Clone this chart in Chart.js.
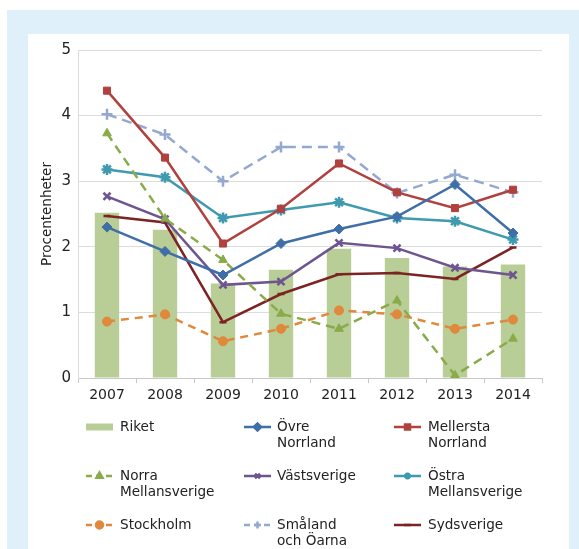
<!DOCTYPE html>
<html>
<head>
    <title>Procentenheter per region</title>
    <script src="https://cdn.jsdelivr.net/npm/chart.js@4.4.1/dist/chart.umd.min.js"></script>
    <style>
        body {
            margin: 0;
            background: #ffffff;
            font-family: "DejaVu Sans", Verdana, sans-serif;
        }
        .frame {
            position: absolute;
            left: 7px;
            top: 10px;
            right: 0;
            bottom: 0;
            background: #dff0fa;
        }
        .panel {
            position: absolute;
            left: 28px;
            top: 34px;
            width: 541px;
            height: 515px;
            background: #ffffff;
        }
    </style>
</head>
<body>
    <div class="frame"></div>
    <div class="panel">
        <canvas id="regionChart" width="541" height="515"></canvas>
    </div>
    <script>
        // Data
        const years = ["2007", "2008", "2009", "2010", "2011", "2012", "2013", "2014"];
        const yTicks = [0, 1, 2, 3, 4, 5];
        const axisTitle = "Procentenheter";

        const riket = [2.52, 2.26, 1.44, 1.65, 1.97, 1.83, 1.70, 1.73];
        const ovreNorrland = [2.30, 1.93, 1.57, 2.05, 2.27, 2.46, 2.95, 2.21];
        const mellerstaNorrland = [4.38, 3.36, 2.05, 2.58, 3.27, 2.83, 2.59, 2.87];
        const norraMellansverige = [3.73, 2.43, 1.80, 0.98, 0.75, 1.18, 0.04, 0.60];
        const vastsverige = [2.77, 2.42, 1.42, 1.47, 2.06, 1.98, 1.68, 1.57];
        const ostraMellansverige = [3.18, 3.06, 2.44, 2.56, 2.68, 2.44, 2.39, 2.11];
        const stockholm = [0.86, 0.97, 0.56, 0.75, 1.03, 0.97, 0.75, 0.89];
        const smalandOarna = [4.02, 3.71, 3.00, 3.52, 3.52, 2.82, 3.10, 2.83];
        const sydsverige = [2.47, 2.37, 0.85, 1.28, 1.58, 1.60, 1.51, 1.99];

        const seriesNames = [
            "Riket", "Övre\nNorrland", "Mellersta\nNorrland",
            "Norra\nMellansverige", "Västsverige", "Östra\nMellansverige",
            "Stockholm", "Småland\noch Öarna", "Sydsverige"
        ];

        function lineSet(name, data, color, style, radius, dash) {
            return {
                type: "line",
                label: name,
                data: data,
                borderColor: color,
                backgroundColor: color,
                borderWidth: 2.5,
                borderDash: dash || [],
                pointStyle: style,
                pointRadius: radius,
                pointBorderWidth: style === "crossRot" || style === "cross" || style === "star" || style === "line" ? 2.5 : 1,
                pointBorderColor: color,
                pointBackgroundColor: color,
                tension: 0,
                order: 1
            };
        }

        const datasets = [
            {
                type: "bar",
                label: seriesNames[0],
                data: riket,
                backgroundColor: "#b9cd96",
                barPercentage: 0.42,
                categoryPercentage: 1.0,
                order: 10
            },
            lineSet(seriesNames[1], ovreNorrland, "#3f6fa8", "rectRot", 5),
            lineSet(seriesNames[2], mellerstaNorrland, "#b0413e", "rect", 5),
            lineSet(seriesNames[3], norraMellansverige, "#8aab4a", "triangle", 5, [9, 6]),
            lineSet(seriesNames[4], vastsverige, "#6e5590", "crossRot", 5),
            lineSet(seriesNames[5], ostraMellansverige, "#3f9ab0", "star", 5.5),
            lineSet(seriesNames[6], stockholm, "#e0883c", "circle", 4.5, [8, 6]),
            lineSet(seriesNames[7], smalandOarna, "#93a9cf", "cross", 5.5, [10, 6]),
            lineSet(seriesNames[8], sydsverige, "#7c2424", "line", 3.5)
        ];

        // legend drawn under the plot, three columns like the original
        const gridLegend = {
            id: "gridLegend",
            afterDraw(chart) {
                const ctx = chart.ctx;
                const swatchX = [58, 216, 366];
                const textX = [92, 249, 400];
                const rowY = [393, 442, 491];
                ctx.save();
                ctx.font = "13.6px 'DejaVu Sans'";
                ctx.textBaseline = "middle";
                chart.data.datasets.forEach(function (ds, i) {
                    const col = i % 3;
                    const row = Math.floor(i / 3);
                    const x = swatchX[col];
                    const y = rowY[row];
                    if (ds.type === "bar") {
                        ctx.fillStyle = ds.backgroundColor;
                        ctx.fillRect(x, y - 3.5, 27, 7);
                    } else {
                        ctx.strokeStyle = ds.borderColor;
                        ctx.fillStyle = ds.borderColor;
                        ctx.lineWidth = 2.5;
                        ctx.setLineDash(ds.borderDash.length ? [6, 4] : []);
                        ctx.beginPath();
                        ctx.moveTo(x, y);
                        ctx.lineTo(x + 27, y);
                        ctx.stroke();
                        ctx.setLineDash([]);
                        Chart.helpers.drawPoint(ctx, {
                            pointStyle: ds.pointStyle,
                            radius: 3.5,
                            rotation: 0,
                            borderWidth: 1.5
                        }, x + 13.5, y);
                    }
                    ctx.fillStyle = "#222";
                    const lines = ds.label.split("\n");
                    lines.forEach(function (t, k) {
                        ctx.fillText(t, textX[col], y + k * 16);
                    });
                });
                ctx.restore();
            }
        };

        const ctx = document.getElementById("regionChart").getContext("2d");
        new Chart(ctx, {
            data: {
                labels: years,
                datasets: datasets
            },
            options: {
                responsive: false,
                animation: false,
                layout: {
                    padding: { top: 14, right: 27, bottom: 141, left: 0 }
                },
                plugins: {
                    legend: { display: false },
                    tooltip: { enabled: false }
                },
                scales: {
                    x: {
                        offset: true,
                        grid: {
                            offset: true,
                            drawOnChartArea: false,
                            drawTicks: true,
                            tickLength: 5,
                            color: "#c8c8c8"
                        },
                        border: { display: true, color: "#c8c8c8" },
                        ticks: {
                            color: "#222",
                            padding: 4,
                            font: { family: "DejaVu Sans", size: 14 },
                            maxRotation: 0
                        },
                        afterFit: function (scale) { scale.height = 30; }
                    },
                    y: {
                        min: 0,
                        max: 5,
                        afterBuildTicks: function (scale) {
                            scale.ticks = yTicks.map(function (v) { return { value: v }; });
                        },
                        grid: {
                            color: "#dcdcdc",
                            drawTicks: false
                        },
                        border: { display: true, color: "#dcdcdc" },
                        ticks: {
                            color: "#222",
                            padding: 7,
                            font: { family: "DejaVu Sans", size: 15 }
                        },
                        title: {
                            display: true,
                            text: axisTitle,
                            color: "#222",
                            padding: { top: 11, bottom: 0 },
                            font: { family: "DejaVu Sans", size: 13.5 }
                        },
                        afterFit: function (scale) { scale.width = 50; }
                    }
                }
            },
            plugins: [gridLegend]
        });
    </script>
</body>
</html>
